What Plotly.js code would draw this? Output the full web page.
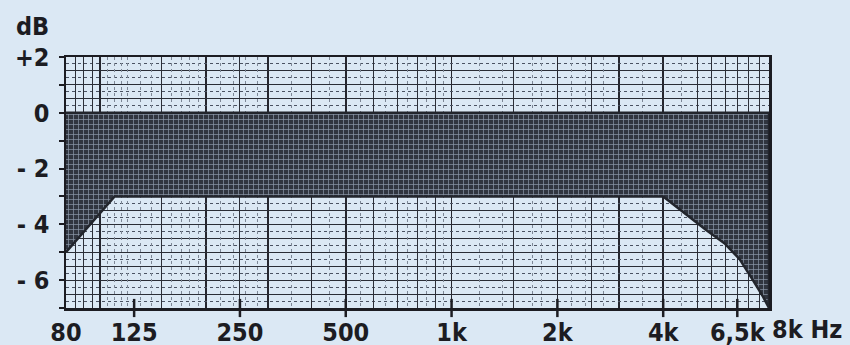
<!DOCTYPE html>
<html>
<head>
<meta charset="utf-8">
<script src="https://cdn.plot.ly/plotly-3.0.1.min.js"></script>
<style>html,body{margin:0;padding:0;background:#dbe8f4;}#chart{width:850px;height:345px;}</style>
</head>
<body>
<div id="chart"></div>
<script>
// Tolerance band: upper limit (0 dB) and lower limit curve
const freqUpper = [80, 8000];
const dbUpper = [0, 0];
const freqLower = [80, 110, 4000, 5300, 6000, 6600, 7200, 7700, 8000];
const dbLower = [-5, -3, -3, -4.2, -4.7, -5.25, -6.0, -6.6, -7];

// Axis ticks and labels
const xTickVals = [80, 125, 250, 500, 1000, 2000, 4000, 6500];
const xTickText = ['80', '125', '250', '500', '1k', '2k', '4k', '6,5k'];
const xTickMarks = [80, 125, 250, 500, 1000, 2000, 4000, 6500];
const yTickVals = [-7, -6, -5, -4, -3, -2, -1, 0, 1, 2];
const yTickText = ['', '- 6', '', '- 4', '', '- 2', '', '0', '', '+2'];
const yMin = -7, yMax = 2;

// Graph-paper grid lines (frequency positions)
const gridMajorX = [100, 200, 300, 400, 500, 1000, 2000, 3000, 4000];
const gridMinorX = [85, 90, 95, 150, 250, 600, 700, 800, 900, 1500, 2500, 5000, 5500, 6000, 6500, 7000, 7500];
const gridFineX = [105, 110, 115, 120, 130, 140, 160, 170, 180, 190, 220, 240, 260, 280, 350, 450, 550, 650, 750, 850, 950, 1200, 1400, 1700, 1800, 2200, 2400, 2700, 3500, 4500];

const bandX = freqUpper.concat(freqLower.slice().reverse());
const bandY = dbUpper.concat(dbLower.slice().reverse());

const font = "'DejaVu Sans Condensed', 'DejaVu Sans', sans-serif";
const ink = '#1c1c22';
const bg = '#dbe8f4';
const xr = [Math.log10(80), Math.log10(8000)];
const tf = {family: font, size: 25, color: ink, weight: 'bold'};

const traces = [{
  x: bandX, y: bandY, type: 'scatter', mode: 'lines',
  fill: 'toself',
  fillcolor: '#363c48',
  fillpattern: {shape: '+', bgcolor: '#30353f', fgcolor: '#8f9bad', size: 5, solidity: 0.25},
  line: {color: '#22252c', width: 2.5},
  hoverinfo: 'skip', showlegend: false
}, {
  // x-axis tick marks crossing the bottom frame line
  x: xTickMarks, y: xTickMarks.map(() => yMin), type: 'scatter', mode: 'markers',
  marker: {symbol: 'line-ns', size: 13, line: {color: ink, width: 2.5}},
  cliponaxis: false, hoverinfo: 'skip', showlegend: false
}];

const layout = {
  width: 850, height: 345,
  margin: {l: 66, r: 81, t: 57, b: 37},
  paper_bgcolor: bg, plot_bgcolor: bg,
  showlegend: false,
  font: tf,
  xaxis: {
    type: 'log', range: xr,
    tickvals: xTickVals, ticktext: xTickText,
    ticks: '', ticklabelstandoff: 0,
    showline: true, linewidth: 2.5, linecolor: ink, mirror: true,
    showgrid: false, zeroline: false,
    tickfont: tf,
    layer: 'above traces'
  },
  xaxis2: {
    type: 'log', range: xr, overlaying: 'x',
    tickvals: gridMajorX, showticklabels: false, ticks: '',
    showgrid: true, gridcolor: '#25262e', gridwidth: 1.6, zeroline: false
  },
  xaxis3: {
    type: 'log', range: xr, overlaying: 'x',
    tickvals: gridMinorX, showticklabels: false, ticks: '',
    showgrid: true, gridcolor: '#2c2f38', gridwidth: 1, zeroline: false
  },
  xaxis4: {
    type: 'log', range: xr, overlaying: 'x',
    tickvals: gridFineX, showticklabels: false, ticks: '',
    showgrid: true, gridcolor: '#7d8796', gridwidth: 1, griddash: 'dot', zeroline: false
  },
  yaxis: {
    range: [yMin, yMax],
    tickvals: yTickVals, ticktext: yTickText,
    ticks: 'outside', ticklen: 5, tickwidth: 2, tickcolor: ink,
    ticklabelstandoff: 4,
    showline: true, linewidth: 2.5, linecolor: ink, mirror: true,
    showgrid: false, zeroline: false,
    tickfont: tf,
    layer: 'above traces'
  },
  yaxis2: {
    range: [yMin, yMax], overlaying: 'y', dtick: 0.25, tick0: 0,
    showticklabels: false, ticks: '',
    showgrid: true, gridcolor: '#4a5262', gridwidth: 1, griddash: 'dot', zeroline: false
  },
  yaxis3: {
    range: [yMin, yMax], overlaying: 'y', dtick: 0.5, tick0: 0,
    showticklabels: false, ticks: '',
    showgrid: true, gridcolor: '#2a2d36', gridwidth: 1, zeroline: false
  },
  annotations: [
    {text: 'dB', xref: 'paper', yref: 'paper', x: 0, y: 1.0, yshift: 31, xshift: -15,
     xanchor: 'right', yanchor: 'middle', showarrow: false, font: tf},
    {text: '8k Hz', xref: 'x', yref: 'paper', x: Math.log10(8000), y: 0, yshift: -21, xshift: 1,
     xanchor: 'left', yanchor: 'middle', showarrow: false, font: tf}
  ]
};

// invisible traces that activate the overlay axes
const gridTraces = [
  {x: [80, 8000], y: [null, null], xaxis: 'x2', yaxis: 'y2', type: 'scatter', mode: 'lines', hoverinfo: 'skip', showlegend: false},
  {x: [80, 8000], y: [null, null], xaxis: 'x3', yaxis: 'y3', type: 'scatter', mode: 'lines', hoverinfo: 'skip', showlegend: false},
  {x: [80, 8000], y: [null, null], xaxis: 'x4', yaxis: 'y2', type: 'scatter', mode: 'lines', hoverinfo: 'skip', showlegend: false}
];

Plotly.newPlot('chart', gridTraces.concat(traces), layout, {staticPlot: true, displayModeBar: false});
</script>
</body>
</html>
